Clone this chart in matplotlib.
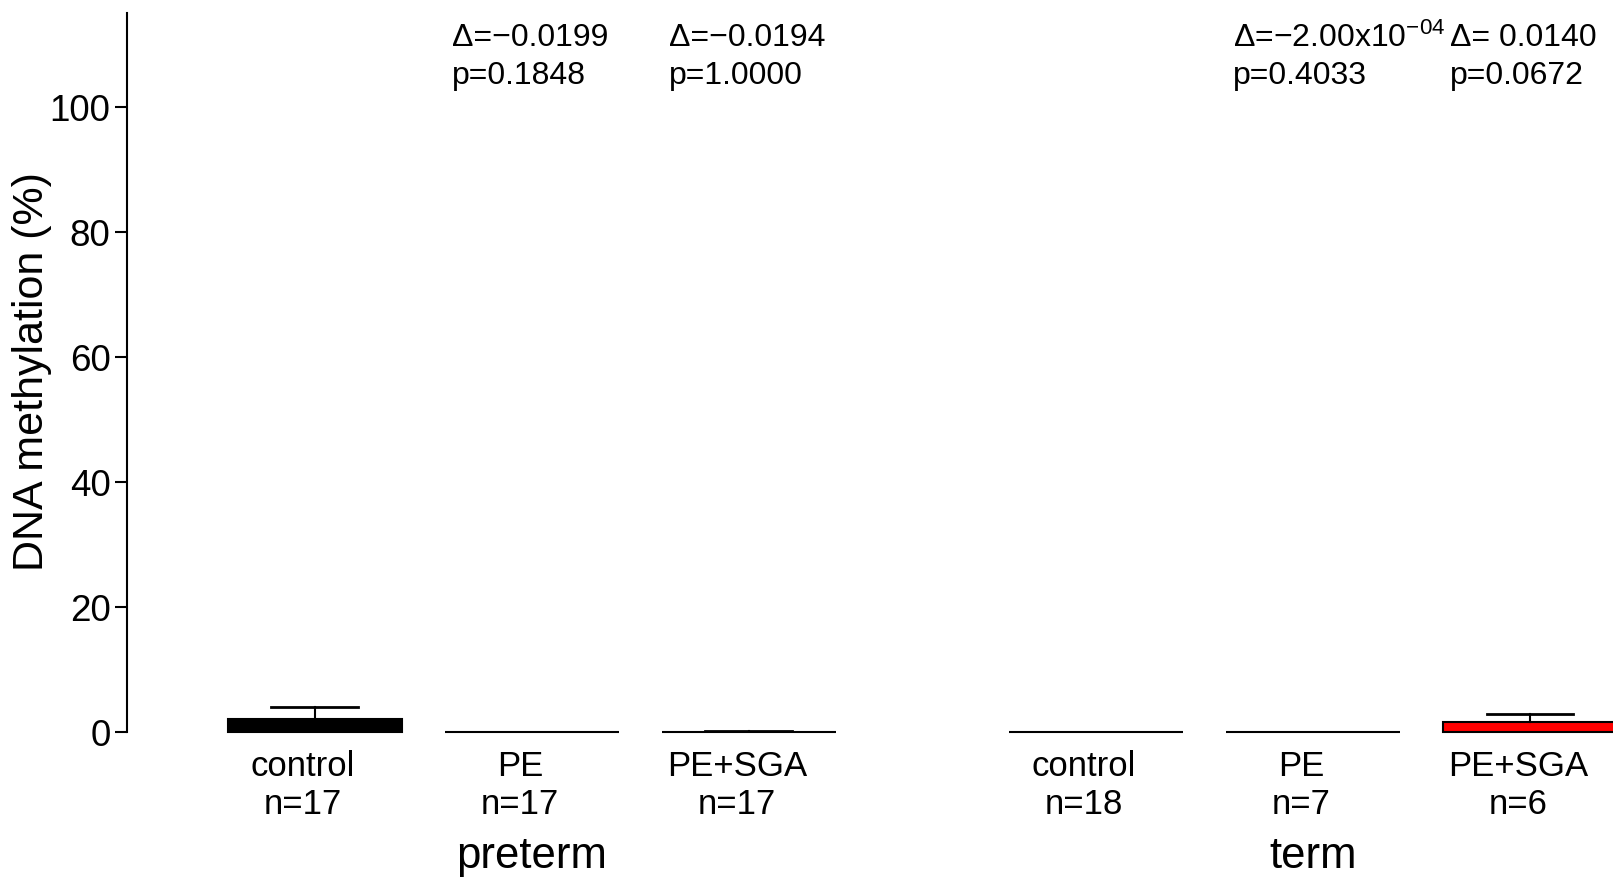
import matplotlib
matplotlib.use("Agg")
import matplotlib.pyplot as plt

plt.rcParams['font.family'] = ['Liberation Sans', 'DejaVu Sans']
plt.rcParams['mathtext.fontset'] = 'custom'
plt.rcParams['mathtext.rm'] = 'Liberation Sans'
plt.rcParams['mathtext.default'] = 'regular'

# data
groups = ['preterm', 'term']
categories = ['control', 'PE', 'PE+SGA', 'control', 'PE', 'PE+SGA']
counts = [17, 17, 17, 18, 7, 6]
means = [2.1, 0.1, 0.1, 0.1, 0.02, 1.6]
sds = [1.9, 0.0, 0.15, 0.0, 0.03, 1.3]
bar_colors = ['black', 'black', 'black', 'black', 'black', 'red']
deltas = [None, '−0.0199', '−0.0194', None, r'−2.00x10$^{−04}$', ' 0.0140']
pvalues = [None, '0.1848', '1.0000', None, '0.4033', '0.0672']

pos = [0, 1, 2, 3.6, 4.6, 5.6]
width = 0.8
lab_shift = -0.055

fig = plt.figure(figsize=(16.13, 8.85), dpi=100)
ax = fig.add_axes([126.5 / 1613, (885 - 732.4) / 885, 1 - 126.5 / 1613, (732.4 - 13.2) / 885])

ax.bar(pos, means, width=width, color=bar_colors, edgecolor='black', linewidth=1.5, clip_on=False)
for x, m, s in zip(pos, means, sds):
    if s > 0:
        ax.plot([x, x], [m, m + s], color='black', lw=1.5)
        ax.plot([x - 0.2, x + 0.2], [m + s, m + s], color='black', lw=2)

# annotations
for x, d, p in zip(pos, deltas, pvalues):
    if d is None:
        continue
    ax.text(x - 0.37, 111.0, 'Δ=' + d, fontsize=23, ha='left', va='center', clip_on=False)
    ax.text(x - 0.37, 105.0, 'p=' + p, fontsize=23, ha='left', va='center', clip_on=False)

ax.set_xlim(-0.868, (1613 - 314.8) / 217)
ax.set_ylim(0, 115)
ax.set_yticks([0, 20, 40, 60, 80, 100])
ax.tick_params(axis='y', labelsize=26.5, length=8.5, width=1.5, pad=3)
ax.set_xticks([])
for s in ['top', 'right', 'bottom']:
    ax.spines[s].set_visible(False)
ax.spines['left'].set_linewidth(1.5)
fig.text(32 / 1613, 1 - 372 / 885, 'DNA methylation (%)', fontsize=31, rotation=90,
         ha='center', va='center')

# category labels under bars
for x, c, n in zip(pos, categories, counts):
    ax.text(x + lab_shift, -5.5, c, fontsize=25, ha='center', va='center', clip_on=False)
    ax.text(x + lab_shift, -11.5, 'n=%d' % n, fontsize=25, ha='center', va='center', clip_on=False)
ax.text(pos[1], -19.8, groups[0], fontsize=31.5, ha='center', va='center', clip_on=False)
ax.text(pos[4], -19.8, groups[1], fontsize=31.5, ha='center', va='center', clip_on=False)

fig.savefig('out.png', dpi=100)
